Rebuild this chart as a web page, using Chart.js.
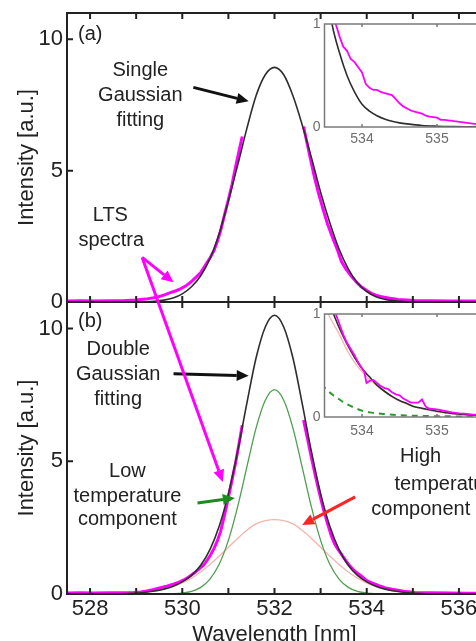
<!DOCTYPE html>
<html>
<head>
<meta charset="utf-8">
<script src="https://cdn.jsdelivr.net/npm/chart.js@4.4.0/dist/chart.umd.min.js"></script>
<style>
  html, body { margin: 0; padding: 0; background: #fff; overflow: hidden; }
  #wrap { position: relative; width: 476px; height: 641px; overflow: hidden; background: #fff; }
  canvas { position: absolute; }
</style>
</head>
<body>
<div id="wrap">
  <canvas id="mainA" width="500" height="330" style="left:0px;top:0px"></canvas>
  <canvas id="mainB" width="500" height="410" style="left:0px;top:240px"></canvas>
  <canvas id="insetA" width="210" height="145" style="left:290px;top:10px"></canvas>
  <canvas id="insetB" width="210" height="145" style="left:290px;top:300px"></canvas>
</div>
<script>
const FONT = "'Liberation Sans', Arial, Helvetica, sans-serif";
Chart.defaults.font.family = FONT;

// axes
const xTicks = [528, 529, 530, 531, 532, 533, 534, 535, 536];
const xLabels = [528, 530, 532, 534, 536];
const yTicks = [0, 5, 10];
const insetXTicks = [534, 535];
const insetYTicks = [0, 1];

// fitted curves, shared wavelength grid (nm)
const fitX = [527.4, 527.6, 527.8, 528.0, 528.2, 528.4, 528.6, 528.8, 529.0, 529.2, 529.4, 529.6,
  529.8, 530.0, 530.2, 530.4, 530.6, 530.8, 531.0, 531.2, 531.4, 531.6, 531.8, 532.0, 532.2, 532.4,
  532.6, 532.8, 533.0, 533.2, 533.4, 533.6, 533.8, 534.0, 534.2, 534.4, 534.6, 534.8, 535.0, 535.2,
  535.4, 535.6, 535.8, 536.0, 536.2, 536.4, 536.6];
// (a) single gaussian
const fitSingle = [0, 0, 0, 0, 0, 0, 0, 0, 0.005, 0.012, 0.03, 0.07, 0.15, 0.31, 0.58, 1.0, 1.65, 2.6,
  3.85, 5.2, 6.6, 7.85, 8.65, 8.93, 8.65, 7.85, 6.75, 5.5, 4.18, 3.02, 2.02, 1.26, 0.72, 0.4, 0.2, 0.1,
  0.045, 0.02, 0.008, 0, 0, 0, 0, 0, 0, 0, 0];
// (b) double gaussian and its two components
const fitDouble = [0, 0, 0, 0.001, 0.002, 0.005, 0.011, 0.021, 0.038, 0.066, 0.11, 0.184, 0.292, 0.456,
  0.7, 1.08, 1.67, 2.55, 3.78, 5.37, 7.18, 8.89, 10.06, 10.5, 10.06, 8.89, 7.18, 5.37, 3.78, 2.55, 1.67,
  1.08, 0.7, 0.456, 0.292, 0.184, 0.11, 0.066, 0.038, 0.021, 0.011, 0.005, 0.002, 0.001, 0, 0, 0];
const fitLow = [0, 0, 0, 0, 0, 0, 0, 0, 0, 0, 0, 0.004, 0.012, 0.036, 0.1, 0.25, 0.56, 1.12, 2.02, 3.28,
  4.78, 6.25, 7.3, 7.7, 7.3, 6.25, 4.78, 3.28, 2.02, 1.12, 0.56, 0.25, 0.1, 0.036, 0.012, 0.004,
  0, 0, 0, 0, 0, 0, 0, 0, 0, 0, 0];
const fitHigh = [0, 0, 0, 0.001, 0.002, 0.005, 0.011, 0.021, 0.038, 0.066, 0.11, 0.18, 0.28, 0.42, 0.6,
  0.83, 1.11, 1.43, 1.76, 2.09, 2.4, 2.64, 2.76, 2.8, 2.76, 2.64, 2.4, 2.09, 1.76, 1.43, 1.11, 0.83, 0.6,
  0.42, 0.28, 0.18, 0.11, 0.066, 0.038, 0.021, 0.011, 0.005, 0.002, 0.001, 0, 0, 0];

// LTS spectra (gap where the trace is not shown)
const specAX = [527.5, 527.8, 528.1, 528.4, 528.7, 529.0, 529.2, 529.45, 529.6, 529.74, 529.85, 529.96,
  530.08, 530.18, 530.3, 530.4, 530.5, 530.61, 530.69, 530.76, 530.83, 530.9, 531.0, 531.08, 531.15,
  531.23, 531.3, 531.9, 532.63, 532.7, 532.79, 532.86, 532.94, 533.05, 533.15, 533.26, 533.37, 533.45,
  533.55, 533.66, 533.77, 533.88, 534.0, 534.1, 534.2, 534.32, 534.5, 534.68, 534.85, 535.04, 535.4,
  535.8, 536.1, 536.5];
const specAY = [0.04, 0.05, 0.04, 0.05, 0.05, 0.08, 0.11, 0.18, 0.26, 0.36, 0.42, 0.5, 0.62, 0.75, 0.95,
  1.12, 1.4, 1.7, 1.96, 2.3, 2.7, 3.2, 3.9, 4.48, 5.1, 5.74, 6.3, null, 6.68, 6.1, 5.36, 4.8, 4.23, 3.55,
  2.97, 2.45, 1.96, 1.55, 1.25, 1.0, 0.77, 0.58, 0.44, 0.33, 0.26, 0.2, 0.14, 0.1, 0.08, 0.06, 0.05,
  0.04, 0.04, 0.04];
const specBX = [527.5, 527.8, 528.1, 528.4, 528.7, 528.94, 529.1, 529.23, 529.38, 529.53, 529.68, 529.82,
  529.93, 530.03, 530.14, 530.25, 530.36, 530.47, 530.55, 530.61, 530.69, 530.76, 530.83, 530.92, 531.01,
  531.08, 531.16, 531.23, 531.3, 531.9, 532.63, 532.71, 532.79, 532.88, 532.97, 533.06, 533.16, 533.23,
  533.3, 533.37, 533.45, 533.55, 533.66, 533.77, 533.88, 534.0, 534.1, 534.25, 534.39, 534.55, 534.68,
  534.85, 535.04, 535.4, 535.8, 536.2, 536.5];
const specBY = [0.04, 0.05, 0.04, 0.05, 0.05, 0.06, 0.08, 0.11, 0.17, 0.24, 0.3, 0.38, 0.45, 0.53, 0.64,
  0.78, 0.94, 1.1, 1.3, 1.46, 1.72, 2.0, 2.35, 3.0, 3.71, 4.3, 4.97, 5.65, 6.36, null, 6.55, 5.9, 5.23,
  4.5, 3.83, 3.2, 2.6, 2.2, 1.9, 1.7, 1.5, 1.25, 1.0, 0.82, 0.68, 0.5, 0.43, 0.32, 0.24, 0.18, 0.14,
  0.09, 0.06, 0.05, 0.04, 0.03, 0.03];

// insets (tail zoom)
const insAFitX = [533.5, 533.6, 533.7, 533.8, 533.9, 534.0, 534.1, 534.2, 534.3, 534.4, 534.5, 534.6,
  534.8, 535.0, 535.2, 535.4, 535.6];
const insAFitY = [1.45, 1.0, 0.72, 0.5, 0.34, 0.22, 0.155, 0.11, 0.078, 0.055, 0.04, 0.03, 0.015, 0.008,
  0.004, 0.002, 0.001];
const insASpecX = [533.6, 533.65, 533.7, 533.75, 533.8, 533.85, 533.9, 533.95, 534.0, 534.05, 534.1,
  534.15, 534.2, 534.25, 534.3, 534.35, 534.4, 534.45, 534.5, 534.55, 534.6, 534.65, 534.7, 534.75,
  534.8, 534.85, 534.9, 535.0, 535.05, 535.1, 535.2, 535.3, 535.4, 535.5, 535.6];
const insASpecY = [1.12, 1.0, 0.88, 0.78, 0.74, 0.66, 0.63, 0.58, 0.53, 0.42, 0.38, 0.36, 0.36, 0.34,
  0.33, 0.32, 0.31, 0.27, 0.23, 0.2, 0.18, 0.16, 0.15, 0.14, 0.13, 0.11, 0.1, 0.09, 0.07, 0.07, 0.06,
  0.05, 0.04, 0.03, 0.03];
const insBFitX = [533.55, 533.62, 533.7, 533.8, 533.9, 534.0, 534.1, 534.2, 534.3, 534.4, 534.5, 534.6,
  534.7, 534.8, 534.9, 535.0, 535.1, 535.2, 535.3, 535.4, 535.5, 535.6];
const insBFitY = [1.13, 1.0, 0.86, 0.71, 0.58, 0.47, 0.39, 0.31, 0.25, 0.2, 0.16, 0.13, 0.1, 0.085, 0.07,
  0.055, 0.045, 0.035, 0.028, 0.022, 0.017, 0.013];
const insBHighX = [533.45, 533.5, 533.55, 533.6, 533.7, 533.8, 533.9, 534.0, 534.1, 534.2, 534.3, 534.4,
  534.5, 534.6, 534.7, 534.8, 534.9, 535.0, 535.1, 535.2, 535.3, 535.4, 535.5, 535.6];
const insBHighY = [1.16, 1.08, 1.0, 0.93, 0.8, 0.65, 0.53, 0.44, 0.365, 0.3, 0.245, 0.195, 0.155, 0.125,
  0.098, 0.08, 0.065, 0.05, 0.04, 0.032, 0.025, 0.02, 0.015, 0.012];
const insBLowX = [533.45, 533.5, 533.6, 533.7, 533.8, 533.9, 534.0, 534.1, 534.3, 534.5, 534.8, 535.2, 535.6];
const insBLowY = [0.31, 0.286, 0.22, 0.17, 0.125, 0.09, 0.062, 0.045, 0.028, 0.018, 0.01, 0.006, 0.004];
const insBSpecX = [533.6, 533.65, 533.7, 533.75, 533.8, 533.85, 533.9, 533.95, 534.0, 534.03, 534.06,
  534.1, 534.15, 534.2, 534.25, 534.3, 534.35, 534.4, 534.45, 534.5, 534.55, 534.6, 534.65, 534.7,
  534.75, 534.8, 534.85, 534.9, 535.0, 535.1, 535.2, 535.3, 535.4, 535.5, 535.6];
const insBSpecY = [1.08, 1.0, 0.9, 0.8, 0.72, 0.66, 0.6, 0.53, 0.47, 0.44, 0.33, 0.35, 0.36, 0.33, 0.3,
  0.28, 0.27, 0.24, 0.22, 0.21, 0.18, 0.16, 0.14, 0.14, 0.14, 0.17, 0.1, 0.08, 0.075, 0.06, 0.045,
  0.035, 0.03, 0.02, 0.04];

// labels and arrows, in data units of each panel
const notesA = [
  { text: '(a)', x: 527.74, y: 10.19, align: 'left' },
  { text: 'Single', x: 529.09, y: 8.82 },
  { text: 'Gaussian', x: 529.09, y: 7.87 },
  { text: 'fitting', x: 529.09, y: 6.92 },
  { text: 'LTS', x: 528.44, y: 3.31 },
  { text: 'spectra', x: 528.46, y: 2.36 }
];
const arrowsA = [
  { from: [530.24, 8.17], to: [531.44, 7.64], color: '#111' }
];
const notesB = [
  { text: '(b)', x: 527.74, y: 10.28, align: 'left' },
  { text: 'Double', x: 528.61, y: 9.21 },
  { text: 'Gaussian', x: 528.61, y: 8.26 },
  { text: 'fitting', x: 528.61, y: 7.32 },
  { text: 'Low', x: 528.81, y: 4.6 },
  { text: 'temperature', x: 528.81, y: 3.66 },
  { text: 'component', x: 528.81, y: 2.79 },
  { text: 'High', x: 535.17, y: 5.17 },
  { text: 'temperature', x: 534.6, y: 4.11, align: 'left' },
  { text: 'component', x: 534.1, y: 3.17, align: 'left' }
];
const arrowsB = [
  { from: [529.81, 8.3], to: [531.44, 8.22], color: '#111' },
  { from: [530.33, 3.43], to: [531.14, 3.62], color: '#1d8a1d' },
  { from: [533.75, 3.66], to: [532.6, 2.6], color: '#ff2424' },
  { from: [529.13, 12.68], to: [529.81, 11.74], color: '#ff00ff' },
  { from: [529.13, 12.68], to: [530.88, 4.22], color: '#ff00ff' }
];

function pts(xs, ys) {
  return xs.map((x, i) => ({ x: x, y: ys[i] }));
}

function line(xs, ys, color, width, order, smooth, dash) {
  return {
    data: pts(xs, ys),
    borderColor: color,
    borderWidth: width,
    borderDash: dash || [],
    pointRadius: 0,
    fill: false,
    spanGaps: false,
    order: order,
    tension: 0,
    cubicInterpolationMode: smooth ? 'monotone' : 'default'
  };
}

function drawArrow(ctx, x1, y1, x2, y2, color) {
  const a = Math.atan2(y2 - y1, x2 - x1);
  const head = 12, hw = 5.5;
  const bx = x2 - head * Math.cos(a), by = y2 - head * Math.sin(a);
  ctx.strokeStyle = color;
  ctx.fillStyle = color;
  ctx.lineWidth = 3;
  ctx.beginPath();
  ctx.moveTo(x1, y1);
  ctx.lineTo(bx, by);
  ctx.stroke();
  ctx.beginPath();
  ctx.moveTo(x2, y2);
  ctx.lineTo(bx + hw * Math.sin(a), by - hw * Math.cos(a));
  ctx.lineTo(bx - hw * Math.sin(a), by + hw * Math.cos(a));
  ctx.closePath();
  ctx.fill();
}

// box round the plot area with inward ticks
function framePlugin(color, width, len, xt, yt) {
  return {
    id: 'frame',
    afterDatasetsDraw(chart) {
      const { ctx, chartArea: c, scales } = chart;
      ctx.save();
      ctx.strokeStyle = color;
      ctx.lineWidth = width;
      ctx.strokeRect(c.left, c.top, c.right - c.left, c.bottom - c.top);
      ctx.beginPath();
      xt.forEach(v => {
        const p = scales.x.getPixelForValue(v);
        ctx.moveTo(p, c.bottom); ctx.lineTo(p, c.bottom - len);
        ctx.moveTo(p, c.top); ctx.lineTo(p, c.top + len);
      });
      yt.forEach(v => {
        const p = scales.y.getPixelForValue(v);
        ctx.moveTo(c.left, p); ctx.lineTo(c.left + len, p);
        ctx.moveTo(c.right, p); ctx.lineTo(c.right - len, p);
      });
      ctx.stroke();
      ctx.restore();
    }
  };
}

function notesPlugin(notes, arrows) {
  return {
    id: 'notes',
    afterDraw(chart) {
      const { ctx, scales } = chart;
      const px = v => scales.x.getPixelForValue(v);
      const py = v => scales.y.getPixelForValue(v);
      ctx.save();
      arrows.forEach(a => drawArrow(ctx, px(a.from[0]), py(a.from[1]), px(a.to[0]), py(a.to[1]), a.color));
      ctx.font = '20px ' + FONT;
      ctx.fillStyle = '#222';
      ctx.textBaseline = 'middle';
      notes.forEach(n => {
        ctx.textAlign = n.align || 'center';
        ctx.fillText(n.text, px(n.x), py(n.y));
      });
      ctx.restore();
    }
  };
}

function mainOptions(showX, padding) {
  return {
    responsive: false,
    animation: false,
    events: [],
    layout: { padding: padding },
    plugins: { legend: { display: false }, tooltip: { enabled: false } },
    scales: {
      x: {
        type: 'linear', min: 527.5, max: 536.5, display: showX,
        grid: { display: false, drawTicks: false },
        border: { display: false },
        afterBuildTicks: s => { s.ticks = xTicks.map(v => ({ value: v })); },
        afterFit: s => {
          if (showX) s.height = 56;
          s.paddingLeft = 0; s.paddingRight = 0;
        },
        ticks: {
          autoSkip: false, maxRotation: 0, padding: 2, color: '#222',
          font: { family: FONT, size: 22 },
          callback: v => xLabels.includes(v) ? String(v) : ''
        },
        title: {
          display: showX, text: 'Wavelength [nm]', color: '#222',
          font: { family: FONT, size: 22 }, padding: { top: 0, bottom: 2 }
        }
      },
      y: {
        type: 'linear', min: 0, max: 11,
        grid: { display: false, drawTicks: false },
        border: { display: false },
        afterBuildTicks: s => { s.ticks = yTicks.map(v => ({ value: v })); },
        afterFit: s => { s.width = 67; s.paddingTop = 0; s.paddingBottom = 0; },
        ticks: { padding: 4, color: '#222', font: { family: FONT, size: 22 } },
        title: {
          display: true, text: 'Intensity [a.u.]', color: '#222',
          font: { family: FONT, size: 22 }, padding: { top: 14, bottom: 0 }
        }
      }
    }
  };
}

function insetOptions(labelPad) {
  return {
    responsive: false,
    animation: false,
    events: [],
    layout: { padding: { top: 14, right: 18, left: 0, bottom: 0 } },
    plugins: { legend: { display: false }, tooltip: { enabled: false } },
    scales: {
      x: {
        type: 'linear', min: 533.5, max: 535.6,
        grid: { display: false, drawTicks: false },
        border: { display: false },
        afterBuildTicks: s => { s.ticks = insetXTicks.map(v => ({ value: v })); },
        afterFit: s => { s.height = 28; s.paddingLeft = 0; s.paddingRight = 0; },
        ticks: { autoSkip: false, maxRotation: 0, padding: labelPad, color: '#6e6e6e', font: { family: FONT, size: 14 } }
      },
      y: {
        type: 'linear', min: 0, max: 1,
        grid: { display: false, drawTicks: false },
        border: { display: false },
        afterBuildTicks: s => { s.ticks = insetYTicks.map(v => ({ value: v })); },
        afterFit: s => { s.width = 34.5; s.paddingTop = 0; s.paddingBottom = 0; },
        ticks: { padding: 4, color: '#6e6e6e', font: { family: FONT, size: 14 } }
      }
    }
  };
}

const MAG = '#ff00ff';
const FIT = '#2e2e2e';
const GREEN = '#4f9f4f';
const PINK = 'rgba(240, 140, 130, 0.65)';

new Chart(document.getElementById('mainA'), {
  type: 'line',
  data: {
    datasets: [
      line(fitX, fitSingle, FIT, 1.6, 1, true),
      line(specAX, specAY, MAG, 3, 2, false)
    ]
  },
  options: mainOptions(false, { top: 13, right: 18, bottom: 28, left: 0 }),
  plugins: [framePlugin('#222', 2, 6, xTicks, yTicks), notesPlugin(notesA, arrowsA)]
});

new Chart(document.getElementById('mainB'), {
  type: 'line',
  data: {
    datasets: [
      line(fitX, fitDouble, FIT, 1.6, 1, true),
      line(fitX, fitLow, GREEN, 1.3, 2, true),
      line(fitX, fitHigh, PINK, 1.3, 3, true),
      line(specBX, specBY, MAG, 3, 4, false)
    ]
  },
  options: mainOptions(true, { top: 62, right: 18, bottom: 0, left: 0 }),
  plugins: [framePlugin('#222', 2, 6, xTicks, yTicks), notesPlugin(notesB, arrowsB)]
});

new Chart(document.getElementById('insetA'), {
  type: 'line',
  data: {
    datasets: [
      line(insAFitX, insAFitY, FIT, 1.6, 1, true),
      line(insASpecX, insASpecY, MAG, 1.8, 2, false)
    ]
  },
  options: insetOptions(4),
  plugins: [framePlugin('#7a7a7a', 1.5, 3, insetXTicks, [])]
});

new Chart(document.getElementById('insetB'), {
  type: 'line',
  data: {
    datasets: [
      line(insBFitX, insBFitY, FIT, 1.6, 2, true),
      line(insBHighX, insBHighY, PINK, 1.3, 3, true),
      line(insBLowX, insBLowY, '#2f972f', 2, 4, true, [6, 5]),
      line(insBSpecX, insBSpecY, MAG, 1.8, 1, false)
    ]
  },
  options: insetOptions(6),
  plugins: [framePlugin('#7a7a7a', 1.5, 3, insetXTicks, [])]
});
</script>
</body>
</html>
